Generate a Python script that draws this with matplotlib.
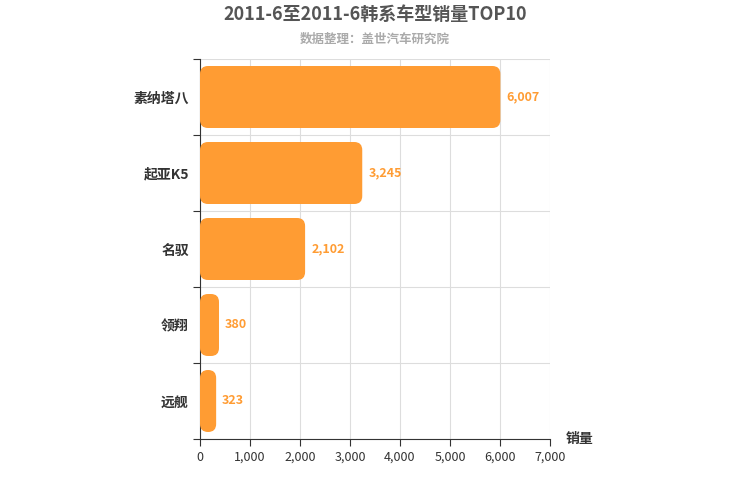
import matplotlib
matplotlib.use("Agg")
import matplotlib.pyplot as plt
from matplotlib.patches import FancyBboxPatch

plt.rcParams["font.family"] = ["Noto Sans CJK SC"]

categories = ["素纳塔八", "起亚K5", "名驭", "领翔", "远舰"]
values = [6007, 3245, 2102, 380, 323]
xticks = [0, 1000, 2000, 3000, 4000, 5000, 6000, 7000]

color = "#ff9c33"
fig = plt.figure(figsize=(7.5, 5), dpi=100)
ax = fig.add_axes([200/750, 61/500, 350/750, 380/500])
n = len(categories)
ax.set_xlim(0, 7000)
ax.set_ylim(n, 0)
xpp = 7000/350
ypp = n/380
bh = 62*ypp
for i, v in enumerate(values):
    yc = i + 0.5
    p = FancyBboxPatch((0, yc-bh/2), v, bh,
                       boxstyle="round,pad=0,rounding_size=%f" % (8*xpp),
                       mutation_aspect=ypp/xpp, fc=color, ec="none", zorder=3)
    ax.add_patch(p)
    ax.text(v + 6*xpp, yc, f"{v:,}", va="center", ha="left", color=color,
            fontsize=9, fontweight="bold", zorder=4)

ax.set_xticks(xticks)
ax.set_xticklabels([f"{t:,}" for t in xticks], fontsize=9, color="#333")
ax.set_yticks(range(n+1))
ax.set_yticklabels([])
ax.set_yticks([i+0.5 for i in range(n)], minor=True)
ax.set_yticklabels(categories, minor=True, fontsize=10, fontweight="bold", color="#333")
ax.tick_params(axis="y", which="minor", length=0, pad=8)
ax.tick_params(axis="y", which="major", length=5, color="#333")
ax.tick_params(axis="x", length=5, color="#333")
ax.grid(True, which="major", color="#dddddd", lw=0.8, zorder=0)
for s in ["top", "right"]:
    ax.spines[s].set_visible(False)
ax.spines["left"].set_color("#333")
ax.spines["bottom"].set_color("#333")
ax.text(7000 + 30*xpp, n, "销量", ha="center", va="center", fontsize=10,
        fontweight="bold", color="#333")

fig.text(375/750, 1-14/500, "2011-6至2011-6韩系车型销量TOP10", ha="center", va="center",
         fontsize=13, fontweight="bold", color="#555")
fig.text(375/750, 1-39/500, "数据整理：盖世汽车研究院", ha="center", va="center",
         fontsize=9, fontweight="bold", color="#aaa")
fig.savefig("out.png", dpi=100)
